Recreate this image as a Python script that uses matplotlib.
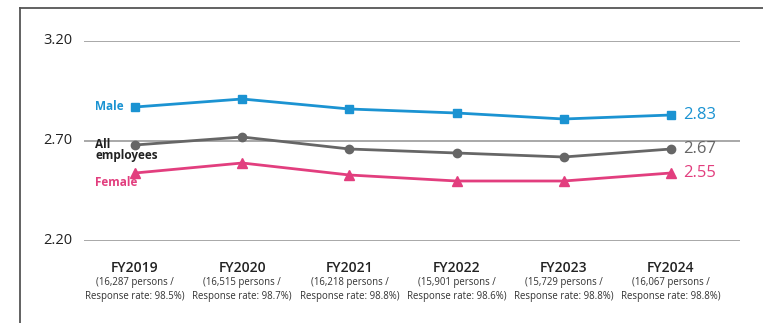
import matplotlib
matplotlib.use("Agg")
import matplotlib.pyplot as plt
from matplotlib.lines import Line2D

plt.rcParams['font.family'] = ['Open Sans', 'DejaVu Sans']

years = ["FY2019", "FY2020", "FY2021", "FY2022", "FY2023", "FY2024"]
notes = [
    "(16,287 persons /\nResponse rate: 98.5%)",
    "(16,515 persons /\nResponse rate: 98.7%)",
    "(16,218 persons /\nResponse rate: 98.8%)",
    "(15,901 persons /\nResponse rate: 98.6%)",
    "(15,729 persons /\nResponse rate: 98.8%)",
    "(16,067 persons /\nResponse rate: 98.8%)",
]
male = [2.87, 2.91, 2.86, 2.84, 2.81, 2.83]
all_emp = [2.68, 2.72, 2.66, 2.64, 2.62, 2.66]
female = [2.54, 2.59, 2.53, 2.50, 2.50, 2.54]
end_labels = ["2.83", "2.67", "2.55"]
yticks = [2.20, 2.70, 3.20]

BLUE = "#1b93d2"
GRAY = "#666666"
PINK = "#e23e7e"

fig = plt.figure(figsize=(7.63, 3.23), dpi=100)

# outer frame: only top and left edges are visible
fig.add_artist(Line2D([20 / 763, 20 / 763], [0, 1 - 8 / 323],
                      transform=fig.transFigure, color="#555555", lw=1.3))
fig.add_artist(Line2D([20 / 763, 1], [1 - 8 / 323, 1 - 8 / 323],
                      transform=fig.transFigure, color="#555555", lw=1.3))

ax = fig.add_axes([84 / 763, 1 - 241 / 323, 656 / 763, 200 / 323])
x = list(range(len(years)))
ax.set_xlim(-0.476, 5.644)
ax.set_ylim(2.20, 3.20)

for yv in yticks:
    ax.axhline(yv, color="#9a9a9a", lw=1.2, zorder=1)
    ax.text(-0.58, yv, f"{yv:.2f}", ha="right", va="center",
            fontsize=10.5, fontweight="medium", color="#222222")

ax.plot(x, male, color=BLUE, lw=2.0, marker="s", ms=5.5, zorder=3)
ax.plot(x, all_emp, color=GRAY, lw=2.0, marker="o", ms=6, zorder=3)
ax.plot(x, female, color=PINK, lw=2.0, marker="^", ms=6.5, zorder=3)

# series names on the left
ax.text(-0.37, male[0], "Male", color=BLUE, fontsize=8.5,
        fontweight="bold", ha="left", va="center")
ax.text(-0.37, all_emp[0] - 0.025, "All\nemployees", color="#222222",
        fontsize=8.5, fontweight="bold", ha="left", va="center",
        linespacing=0.8)
ax.text(-0.37, female[0] - 0.05, "Female", color=PINK, fontsize=8.5,
        fontweight="bold", ha="left", va="center")

# end values
for vals, lab, col in zip([male, all_emp, female], end_labels,
                          [BLUE, GRAY, PINK]):
    ax.text(5.11, vals[-1], lab, color=col, fontsize=12,
            ha="left", va="center")

for i, (yr, nt) in enumerate(zip(years, notes)):
    ax.text(i, 2.065, yr, ha="center", va="center", fontsize=10,
            fontweight="semibold", color="#222222")
    ax.text(i, 1.958, nt, ha="center", va="center", fontsize=6.9,
            color="#333333", linespacing=1.35)

ax.set_xticks([])
ax.set_yticks([])
for s in ax.spines.values():
    s.set_visible(False)
ax.patch.set_alpha(0)

fig.savefig("out.png", dpi=100)
